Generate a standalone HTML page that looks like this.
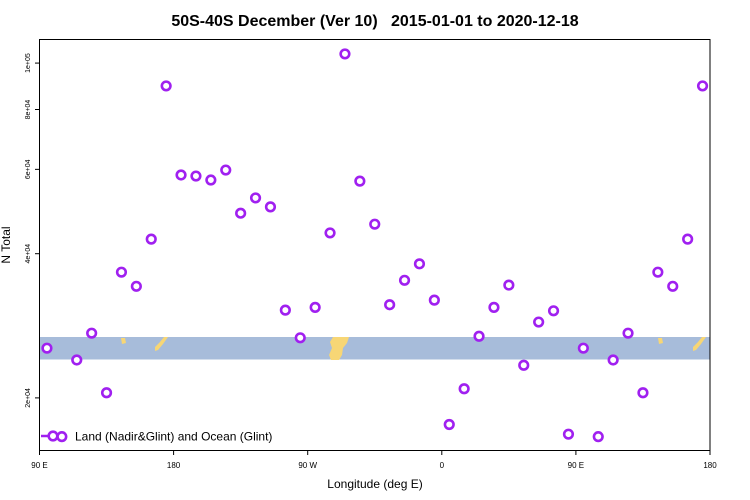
<!DOCTYPE html>
<html><head><meta charset="utf-8"><style>
html,body{margin:0;padding:0;background:#fff;}
svg{display:block;font-family:"Liberation Sans",sans-serif;}
</style></head><body>
<svg id="chart" width="750" height="500" viewBox="0 0 750 500">
<text x="375" y="26" text-anchor="middle" font-size="16" font-weight="bold" fill="#000" xml:space="preserve">50S-40S December (Ver 10)   2015-01-01 to 2020-12-18</text>
<g id="band">
<rect x="39.5" y="337" width="670.5" height="22.5" fill="#a7bcda"/>
<polygon points="121,338 125,338 126,343 122,344" fill="#f7d675"/>
<polygon points="164,337 168,337 163,344 158,350 155,351 155,347 160,342" fill="#f7d675"/>
<polygon points="333,337 349,337 347,343 343,348 342,355 339,360 331,360 329,355 332,348 330,342" fill="#f7d675"/>
<polygon points="658,338 662,338 663,343 659,344" fill="#f7d675"/>
<polygon points="702,337 706,337 701,344 696,350 693,351 693,347 698,342" fill="#f7d675"/>
</g>
<rect x="39.5" y="39.5" width="670.5" height="411" fill="none" stroke="#000" stroke-width="1"/>
<g id="axes"></g>
<g id="points"></g>
<g>
<line x1="41" y1="436" x2="53" y2="436" stroke="#a020f0" stroke-width="2.5"/>
<circle cx="53" cy="436" r="4.3" fill="#fff" stroke="#a020f0" stroke-width="2.6"/>
<text x="75" y="440.5" font-size="12" fill="#000">Land (Nadir&amp;Glint) and Ocean (Glint)</text>
</g>
<text x="375" y="488" text-anchor="middle" font-size="12" fill="#000">Longitude (deg E)</text>
<text transform="translate(10,245) rotate(-90)" text-anchor="middle" font-size="12" fill="#000">N Total</text>
</svg>
<script>
const lons = [95,105,115,125,135,145,155,165,175,185,195,205,215,225,235,245,255,265,275,285,295,305,315,325,335,345,355,365,375,385,395,405,415,425,435,445];
const totals = [25400,16600,24000,27300,20500,36600,34200,42900,89600,58400,58100,57000,59800,48600,52300,50100,30500,26700,30900,44200,104500,56700,46100,31300,35200,38100,32000,17600,20900,26900,30900,34400,23400,28800,30400,16800];
const xTickLons = [90,180,270,360,450,540];
const xTickLabels = ["90 E","180","90 W","0","90 E","180"];
const yTickVals = [20000,40000,60000,80000,100000];
const yTickLabels = ["2e+04","4e+04","6e+04","8e+04","1e+05"];

const NS = "http://www.w3.org/2000/svg";
function xScale(lon){ return 39.5 + (lon - 90) * (670.5 / 450); }
function yScale(v){ return 253.7 - (Math.log10(v) - Math.log10(40000)) * 479; }
function mk(tag, attrs, parent){ const e = document.createElementNS(NS, tag); for (const k in attrs) e.setAttribute(k, attrs[k]); parent.appendChild(e); return e; }

const axes = document.getElementById('axes');
xTickLons.forEach((l, i) => {
  const x = xScale(l);
  const t = mk('line', {x1:x, y1:450.5, x2:x, y2:455, stroke:'#000'}, axes);
  
  
  const tx = mk('text', {x:x, y:468, 'text-anchor':'middle', 'font-size':'8', fill:'#000'}, axes);
  tx.textContent = xTickLabels[i];
  
  
});
yTickVals.forEach((v, i) => {
  const y = yScale(v);
  const t = mk('line', {x1:35, y1:y, x2:39.5, y2:y, stroke:'#000'}, axes);
  
  
  const tx = mk('text', {transform:'translate(30,' + y + ') rotate(-90)', 'text-anchor':'middle', 'font-size':'7', fill:'#000'}, axes);
  tx.textContent = yTickLabels[i];
  
  
});

const pts = document.getElementById('points');
lons.forEach((l, i) => {
  [l, l + 360].forEach(lon => {
    if (lon > 540) return;
    const c = mk('circle', {cx:xScale(lon), cy:yScale(totals[i]), r:4.3, fill:'#fff', stroke:'#a020f0', 'stroke-width':2.6}, pts);
    
    
  });
});
</script>
</body></html>
